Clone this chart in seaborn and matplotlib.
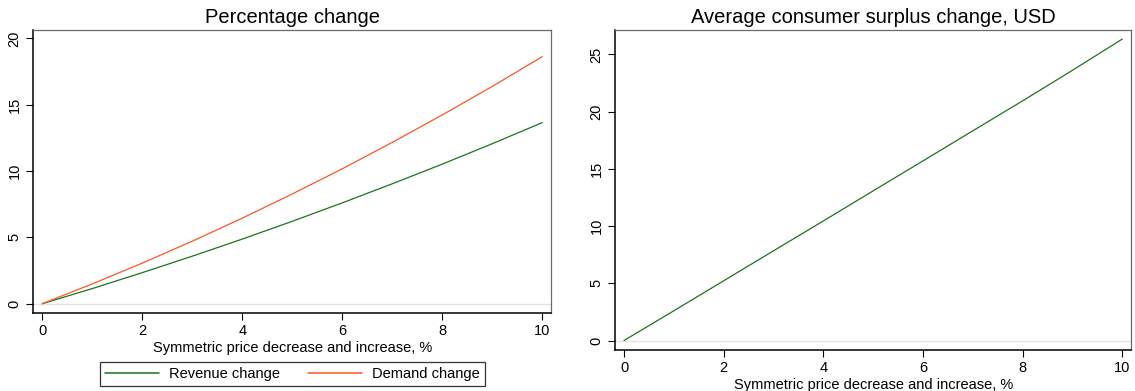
import numpy as np
import pandas as pd
import matplotlib
matplotlib.use("Agg")
import matplotlib.pyplot as plt
import seaborn as sns

# Symmetric price change, in percent
price_change = [0, 1, 2, 3, 4, 5, 6, 7, 8, 9, 10]

# Percentage change in revenue and in demand
revenue_change = [0.0, 1.14, 2.34, 3.58, 4.87, 6.21, 7.60, 9.04, 10.52, 12.06, 13.65]
demand_change = [0.0, 1.49, 3.06, 4.71, 6.45, 8.27, 10.17, 12.16, 14.23, 16.38, 18.62]

# Average consumer surplus change, USD
surplus_change = [0.0, 2.60, 5.22, 7.84, 10.45, 13.08, 15.70, 18.33, 20.95, 23.62, 26.35]

series_names = ["Revenue change", "Demand change"]
x_ticks = [0, 2, 4, 6, 8, 10]
left_y_ticks = [0, 5, 10, 15, 20]
right_y_ticks = [0, 5, 10, 15, 20, 25]

GREEN = "#1C741C"
ORANGE = "#FF5522"

sns.set_style("white")
plt.rcParams["font.family"] = ["Liberation Sans", "DejaVu Sans"]
plt.rcParams["text.color"] = "#000000"
plt.rcParams["axes.labelcolor"] = "#000000"
plt.rcParams["xtick.color"] = "#000000"
plt.rcParams["ytick.color"] = "#000000"

long_df = pd.DataFrame({
    "price": price_change * 2,
    "value": revenue_change + demand_change,
    "series": [series_names[0]] * len(price_change) + [series_names[1]] * len(price_change),
})
surplus_df = pd.DataFrame({"price": price_change, "value": surplus_change})

W, H = 1135, 391
fig = plt.figure(figsize=(W / 100, H / 100), dpi=100)


def px_axes(left, top, right, bottom):
    return fig.add_axes([left / W, 1 - bottom / H, (right - left) / W, (bottom - top) / H])


ax1 = px_axes(33.3, 30, 551.3, 312.7)
ax2 = px_axes(615.3, 30, 1131.3, 350)

sns.lineplot(data=long_df, x="price", y="value", hue="series",
             palette=[GREEN, ORANGE], ax=ax1, linewidth=0.9, legend=False)
sns.lineplot(data=surplus_df, x="price", y="value", color=GREEN, ax=ax2, linewidth=0.9)

ax1.set_xlim(-0.18, 10.18)
ax1.set_ylim(-0.68, 20.63)
ax2.set_xlim(-0.175, 10.18)
ax2.set_ylim(-0.83, 27.14)

for ax, yt, title in [(ax1, left_y_ticks, "Percentage change"),
                      (ax2, right_y_ticks, "Average consumer surplus change, USD")]:
    ax.axhline(0, color="#e4e4e4", linewidth=1.0, zorder=0)
    ax.set_xticks(x_ticks)
    ax.set_yticks(yt)
    ax.set_xticklabels([str(t) for t in x_ticks])
    ax.set_yticklabels([str(t) for t in yt], rotation=90, va="center")
    ax.tick_params(axis="both", direction="out", length=5, width=0.8, color="#000000",
                   labelcolor="#000000", labelsize=10.5, bottom=True, left=True)
    ax.tick_params(axis="x", pad=3)
    ax.tick_params(axis="y", pad=3.5)
    ax.set_xlabel("Symmetric price decrease and increase, %", fontsize=10.5, labelpad=2,
                  color="#000000")
    ax.set_ylabel("")
    ax.set_title(title, fontsize=14.5, pad=5, color="#000000")
    for side in ["left", "bottom"]:
        ax.spines[side].set_color("#000000")
        ax.spines[side].set_linewidth(1.1)
    for side in ["top", "right"]:
        ax.spines[side].set_color("#6a6a6a")
        ax.spines[side].set_linewidth(0.9)

handles = [plt.Line2D([], [], color=GREEN, linewidth=1.1),
           plt.Line2D([], [], color=ORANGE, linewidth=1.1)]
leg = fig.legend(handles, series_names, loc="center", ncol=2,
                 bbox_to_anchor=(292.3 / W, 1 - 374 / H), frameon=True, fancybox=False,
                 fontsize=10.5, handlelength=3.7, handletextpad=0.7, columnspacing=1.9,
                 borderpad=0.35, borderaxespad=0)
leg.get_frame().set_edgecolor("#000000")
leg.get_frame().set_linewidth(0.9)
for txt in leg.get_texts():
    txt.set_color("#000000")

fig.savefig("out.png", dpi=100, facecolor="white")
